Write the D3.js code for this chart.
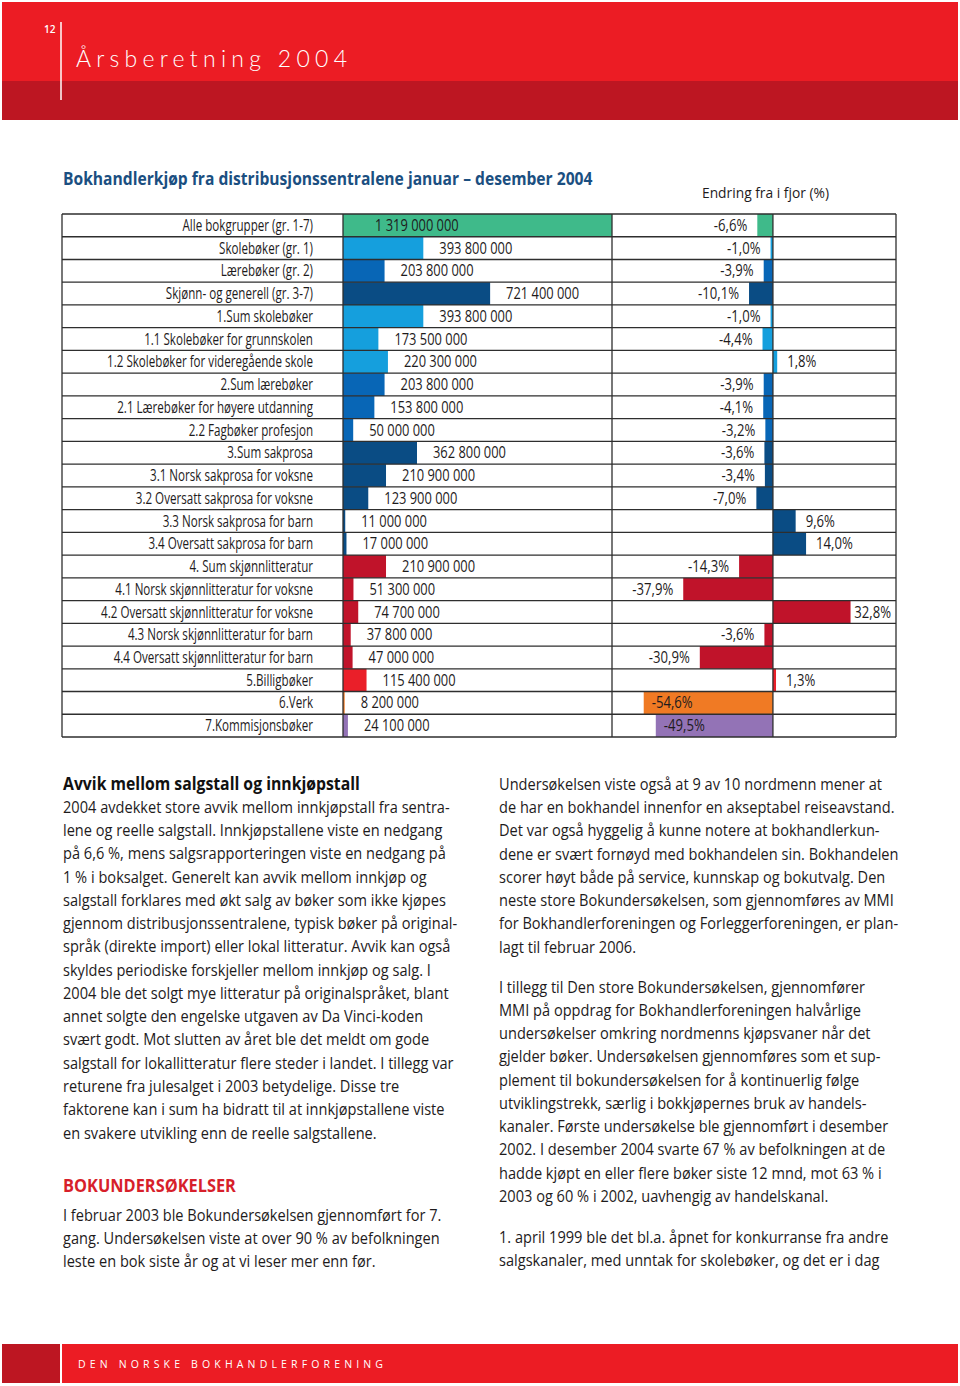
<!DOCTYPE html>
<html><head><meta charset="utf-8">
<script src="https://cdn.jsdelivr.net/npm/d3@7"></script>
<style>
html,body{margin:0;padding:0;background:#fff;}
svg{display:block;}
text{font-family:"Open Sans","Noto Sans",sans-serif;}
</style></head>
<body>
<svg id="page" width="960" height="1386"></svg>
<script>
// ---------------- DATA ----------------
const categories = [
  "Alle bokgrupper (gr. 1-7)",
  "Skolebøker (gr. 1)",
  "Lærebøker (gr. 2)",
  "Skjønn- og generell  (gr. 3-7)",
  "1.Sum skolebøker",
  "1.1 Skolebøker for grunnskolen",
  "1.2 Skolebøker for videregående skole",
  "2.Sum lærebøker",
  "2.1 Lærebøker for høyere utdanning",
  "2.2 Fagbøker profesjon",
  "3.Sum sakprosa",
  "3.1 Norsk sakprosa for voksne",
  "3.2 Oversatt sakprosa for voksne",
  "3.3 Norsk sakprosa for barn",
  "3.4 Oversatt sakprosa for barn",
  "4. Sum skjønnlitteratur",
  "4.1 Norsk skjønnlitteratur for voksne",
  "4.2 Oversatt skjønnlitteratur for voksne",
  "4.3 Norsk skjønnlitteratur for barn",
  "4.4 Oversatt skjønnlitteratur for barn",
  "5.Billigbøker",
  "6.Verk",
  "7.Kommisjonsbøker"
];
const values = [
  1319000000, 393800000, 203800000, 721400000, 393800000, 173500000, 220300000,
  203800000, 153800000, 50000000, 362800000, 210900000, 123900000, 11000000,
  17000000, 210900000, 51300000, 74700000, 37800000, 47000000, 115400000,
  8200000, 24100000
];
const changes = [
  -6.6, -1.0, -3.9, -10.1, -1.0, -4.4, 1.8, -3.9, -4.1, -3.2, -3.6, -3.4, -7.0,
  9.6, 14.0, -14.3, -37.9, 32.8, -3.6, -30.9, 1.3, -54.6, -49.5
];
const groups = [
  "total", "skole", "laere", "generell", "skole", "skole", "skole", "laere",
  "laere", "laere", "generell", "generell", "generell", "generell", "generell",
  "skjonn", "skjonn", "skjonn", "skjonn", "skjonn", "billig", "verk", "kommisjon"
];
const groupKeys = ["total", "skole", "laere", "generell", "skjonn", "billig", "verk", "kommisjon"];
const groupColors = ["#3fba8a", "#159fdd", "#0866b6", "#0a4c84", "#c0132a", "#ea1f29", "#f07a24", "#9373b6"];

const chartTitle = "Bokhandlerkjøp fra distribusjonssentralene januar – desember 2004";
const changeTitle = "Endring fra i fjor (%)";

const leftHeading = "Avvik mellom salgstall og innkjøpstall";
const leftPara1 = [
  "2004 avdekket store avvik mellom innkjøpstall fra sentra-",
  "lene og reelle salgstall. Innkjøpstallene viste en nedgang",
  "på 6,6 %, mens salgsrapporteringen viste en nedgang på",
  "1 % i boksalget. Generelt kan avvik mellom innkjøp og",
  "salgstall forklares med økt salg av bøker som ikke kjøpes",
  "gjennom distribusjonssentralene, typisk bøker på original-",
  "språk (direkte import) eller lokal litteratur. Avvik kan også",
  "skyldes periodiske forskjeller mellom innkjøp og salg. I",
  "2004 ble det solgt mye litteratur på originalspråket, blant",
  "annet solgte den engelske utgaven av Da Vinci-koden",
  "svært godt. Mot slutten av året ble det meldt om gode",
  "salgstall for lokallitteratur flere steder i landet. I tillegg var",
  "returene fra julesalget i 2003 betydelige. Disse tre",
  "faktorene kan i sum ha bidratt til at innkjøpstallene viste",
  "en svakere utvikling enn de reelle salgstallene."
];
const leftHeading2 = "BOKUNDERSØKELSER";
const leftPara2 = [
  "I februar 2003 ble Bokundersøkelsen gjennomført for 7.",
  "gang. Undersøkelsen viste at over 90 % av befolkningen",
  "leste en bok siste år og at vi leser mer enn før."
];
const rightPara1 = [
  "Undersøkelsen viste også at 9 av 10 nordmenn mener at",
  "de har en bokhandel innenfor en akseptabel reiseavstand.",
  "Det var også hyggelig å kunne notere at bokhandlerkun-",
  "dene er svært fornøyd med bokhandelen sin. Bokhandelen",
  "scorer høyt både på service, kunnskap og bokutvalg. Den",
  "neste store Bokundersøkelsen, som gjennomføres av MMI",
  "for Bokhandlerforeningen og Forleggerforeningen, er plan-",
  "lagt til februar 2006."
];
const rightPara2 = [
  "I tillegg til Den store Bokundersøkelsen, gjennomfører",
  "MMI på oppdrag for Bokhandlerforeningen halvårlige",
  "undersøkelser omkring nordmenns kjøpsvaner når det",
  "gjelder bøker. Undersøkelsen gjennomføres som et sup-",
  "plement til bokundersøkelsen for å kontinuerlig følge",
  "utviklingstrekk, særlig i bokkjøpernes bruk av handels-",
  "kanaler. Første undersøkelse ble gjennomført i desember",
  "2002. I desember 2004 svarte 67 % av befolkningen at de",
  "hadde kjøpt en eller flere bøker siste 12 mnd, mot 63 % i",
  "2003 og 60 % i 2002, uavhengig av handelskanal."
];
const rightPara3 = [
  "1. april 1999 ble det bl.a. åpnet for konkurranse fra andre",
  "salgskanaler, med unntak for skolebøker, og det er i dag"
];
const pageNumber = "12";
const headerTitle = "Årsberetning 2004";
const footerText = "DEN NORSKE BOKHANDLERFORENING";

// ---------------- DRAW ----------------
const svg = d3.select("#page");
const ink = "#1e1b1c";

// measuring helper
function measure(str, size, weight, family) {
  const t = svg.append("text").attr("font-size", size).attr("font-weight", weight || 400).text(str);
  if (family) t.style("font-family", family);
  const w = t.node().getComputedTextLength();
  t.remove();
  return w;
}
// place a text at (x,y) with horizontal condensation k (via transform)
function place(sel, x, y, k) {
  sel.attr("x", 0).attr("y", 0)
    .attr("transform", `translate(${x},${y}) scale(${k},1)`);
}
// spread letters so that text fits a target width
function spread(sel, target) {
  const str = sel.text();
  const w = sel.node().getComputedTextLength();
  sel.attr("letter-spacing", (target - w) / Math.max(1, str.length - 1));
}

// header
svg.append("rect").attr("x", 2).attr("y", 2).attr("width", 956).attr("height", 80).attr("fill", "#ec1c24");
svg.append("rect").attr("x", 2).attr("y", 81).attr("width", 956).attr("height", 39).attr("fill", "#bd1622");
svg.append("line").attr("x1", 61).attr("x2", 61).attr("y1", 22).attr("y2", 100).attr("stroke", "#fff").attr("stroke-width", 1.5);
svg.append("text").attr("x", 44).attr("y", 33).attr("fill", "#fff").attr("font-size", 10).attr("font-weight", 600).text(pageNumber);
svg.append("text").attr("x", 76).attr("y", 67).attr("fill", "#fff").attr("font-size", 23)
  .style("font-family", "Lato, 'Open Sans', sans-serif").attr("font-weight", 300)
  .text(headerTitle).call(spread, 271);

// footer
svg.append("rect").attr("x", 2).attr("y", 1344).attr("width", 58).attr("height", 39).attr("fill", "#bd1622");
svg.append("rect").attr("x", 62).attr("y", 1344).attr("width", 896).attr("height", 39).attr("fill", "#ec1c24");
svg.append("text").attr("x", 78).attr("y", 1368).attr("fill", "#fff").attr("font-size", 10.5)
  .text(footerText).call(spread, 305);

// titles
const tSize = 17;
svg.append("text").attr("fill", "#1b4f81").attr("font-size", tSize).attr("font-weight", 700)
  .text(chartTitle).call(place, 63, 185, 530 / measure(chartTitle, tSize, 700));
svg.append("text").attr("fill", ink).attr("font-size", 15)
  .text(changeTitle).call(place, 702, 198, 127 / measure(changeTitle, 15));

// table geometry
const n = categories.length;
const tTop = 214, tBot = 737;
const xL = 62, xC1 = 343, xC2 = 612, xR = 896;
const y = d3.scaleBand().domain(d3.range(n)).range([tTop, tBot]).padding(0);
const xVal = d3.scaleLinear().domain([0, 1319e6]).range([xC1, xC2]);
const xChg = d3.scaleLinear().domain([-68, 52]).range([xC2, xR]);
const color = d3.scaleOrdinal().domain(groupKeys).range(groupColors);
const loc = d3.formatLocale({decimal: ",", thousands: " ", grouping: [3], currency: ["", ""], minus: "-"});
const fmtVal = loc.format(",");
const fmtPct = v => loc.format(".1f")(v) + "%";

const rows = d3.range(n).map(i => ({i, cat: categories[i], v: values[i], c: changes[i], g: groups[i]}));
const yc = d => y(d.i) + y.bandwidth() / 2;

// bars
const g = svg.append("g");
g.selectAll("rect.val").data(rows).join("rect").attr("class", "val")
  .attr("x", xVal(0)).attr("y", d => y(d.i))
  .attr("width", d => xVal(d.v) - xVal(0)).attr("height", y.bandwidth())
  .attr("fill", d => color(d.g));
g.selectAll("rect.chg").data(rows).join("rect").attr("class", "chg")
  .attr("x", d => Math.min(xChg(0), xChg(d.c))).attr("y", d => y(d.i))
  .attr("width", d => Math.abs(xChg(d.c) - xChg(0))).attr("height", y.bandwidth())
  .attr("fill", d => color(d.g));

// grid lines
const gl = svg.append("g").attr("stroke", "#2e2e2e").attr("stroke-width", 1.3);
gl.selectAll("line.h").data(d3.range(n + 1)).join("line")
  .attr("x1", xL).attr("x2", xR)
  .attr("y1", i => i < n ? y(i) : tBot).attr("y2", i => i < n ? y(i) : tBot);
gl.selectAll("line.v").data([xL, xC1, xC2, xChg(0), xR]).join("line")
  .attr("x1", d => d).attr("x2", d => d).attr("y1", tTop).attr("y2", tBot);

// label fonts
const lblSize = 15.5;
const kLbl = 212 / measure("4.2 Oversatt skjønnlitteratur for voksne", lblSize);
const kNum = 73 / measure("393 800 000", lblSize);
const kPct = 41 / measure("-10,1%", lblSize);

const labels = svg.append("g").attr("fill", ink).attr("font-size", lblSize);
labels.selectAll("text.cat").data(rows).join("text").attr("class", "cat")
  .attr("dy", "0.36em").attr("text-anchor", "end").text(d => d.cat)
  .each(function (d) { place(d3.select(this), 313, yc(d), kLbl); });

labels.selectAll("text.num").data(rows).join("text").attr("class", "num")
  .attr("dy", "0.36em").text(d => fmtVal(d.v))
  .each(function (d) {
    const w = this.getComputedTextLength() * kNum;
    let x = Math.max(xVal(d.v) + 16, xC1 + 13);
    if (x + w > xC2 - 4) x = xC1 + 32;
    place(d3.select(this), x, yc(d), kNum);
  });

labels.selectAll("text.pct").data(rows).join("text").attr("class", "pct")
  .attr("dy", "0.36em").text(d => fmtPct(d.c))
  .each(function (d) {
    const w = this.getComputedTextLength() * kPct;
    const s = d3.select(this);
    if (d.c >= 0) {
      s.attr("text-anchor", "start");
      place(s, Math.min(xChg(d.c) + 10, xR - 5 - w), yc(d), kPct);
    } else {
      const left = xChg(d.c);
      if (left - 10 - w < xC2 + 4) { s.attr("text-anchor", "start"); place(s, left + 8, yc(d), kPct); }
      else { s.attr("text-anchor", "end"); place(s, left - 10, yc(d), kPct); }
    }
  });

// body text
const bodySize = 16.5;
const kBody = 387 / measure(leftPara1[0], bodySize);
function para(lines, x, y0, step) {
  svg.append("g").attr("fill", ink).attr("font-size", bodySize)
    .selectAll("text").data(lines).join("text")
    .attr("dy", "0.35em").text(d => d)
    .each(function (d, i) { place(d3.select(this), x, y0 + i * step, kBody); });
}
const step = 23.27;
const hSize = 17.5;
svg.append("text").attr("dy", "0.35em").attr("fill", "#111")
  .attr("font-size", hSize).attr("font-weight", 700).text(leftHeading)
  .call(place, 63, 784, 297 / measure(leftHeading, hSize, 700));
para(leftPara1, 63, 807, step);
svg.append("text").attr("dy", "0.35em").attr("fill", "#d71f2b")
  .attr("font-size", hSize).attr("font-weight", 700).text(leftHeading2)
  .call(place, 63, 1186, 173 / measure(leftHeading2, hSize, 700));
para(leftPara2, 63, 1215, step);
para(rightPara1, 499, 784, step);
para(rightPara2, 499, 987, 23.22);
para(rightPara3, 499, 1237, step);
</script>
</body></html>
